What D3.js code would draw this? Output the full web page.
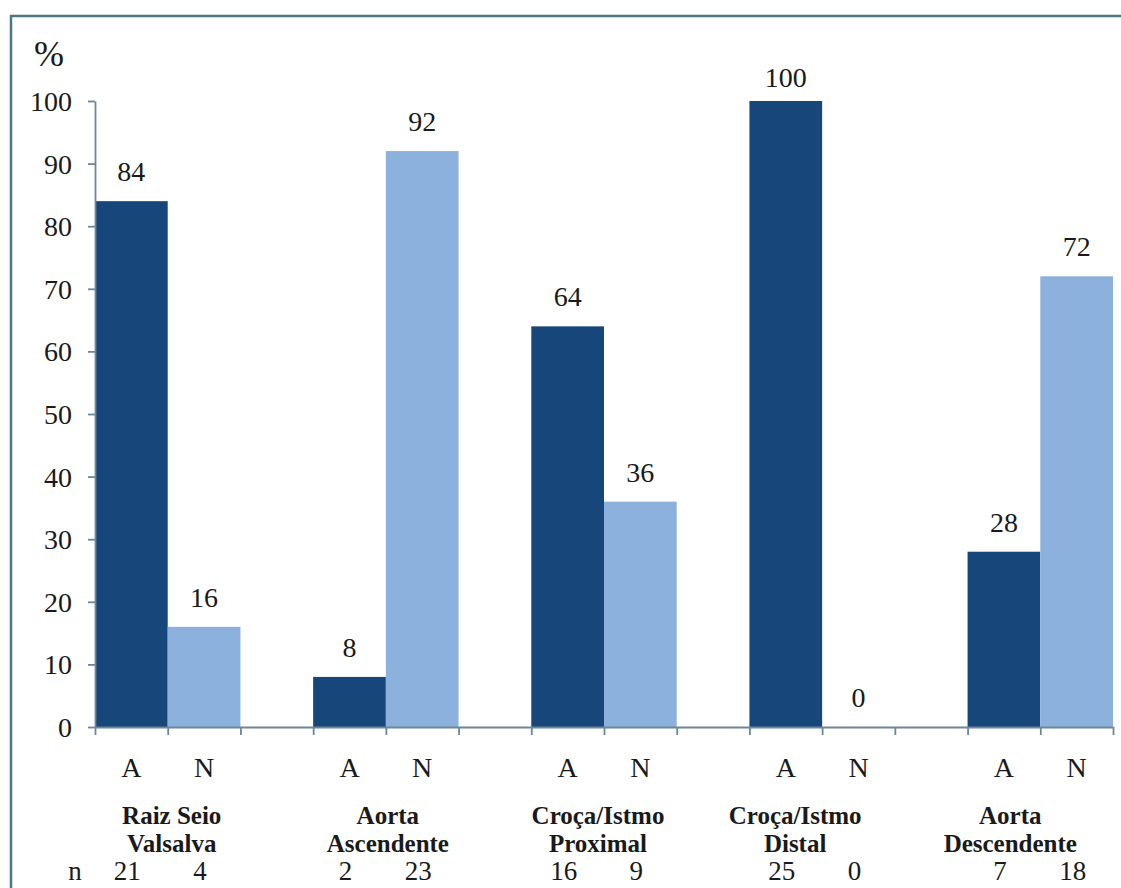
<!DOCTYPE html>
<html>
<head>
<meta charset="utf-8">
<script src="https://cdn.jsdelivr.net/npm/d3@7"></script>
<style>
  html, body { margin: 0; padding: 0; background: #ffffff; }
  svg { display: block; }
</style>
</head>
<body>
<svg id="chart" width="1121" height="888"></svg>
<script>
// ---- data ----
const categories = [
  ["Raiz Seio", "Valsalva"],
  ["Aorta", "Ascendente"],
  ["Croça/Istmo", "Proximal"],
  ["Croça/Istmo", "Distal"],
  ["Aorta", "Descendente"]
];
const seriesNames = ["A", "N"];
const valuesA = [84, 8, 64, 100, 28];
const valuesN = [16, 92, 36, 0, 72];
const countsA = [21, 2, 16, 25, 7];
const countsN = [4, 23, 9, 0, 18];
const yTicks = [0, 10, 20, 30, 40, 50, 60, 70, 80, 90, 100];
const yLabel = "%";
const nLabel = "n";

(function () {
const FONT = '"Liberation Serif", "Times New Roman", serif';
const TXT = "#1a1a1a";

// ---- layout ----
const svg = d3.select("#chart").attr("font-family", FONT);
const pLeft = 95, pRight = 1113, pTop = 101, pBottom = 727;
const colorA = "#16467a", colorN = "#8db1dd", axisColor = "#6b8898";
const catLabelDx = [4, 2, -6, -27, -30];

// frame
svg.append("rect").attr("x", 11).attr("y", 16).attr("width", 1200).attr("height", 1000)
  .attr("fill", "none").attr("stroke", "#4f7687").attr("stroke-width", 2.5);

// slots: A, N, gap per category (no gap after the last)
const slots = [];
categories.forEach((c, i) => {
  slots.push({ key: i + "A", cat: i, s: 0, v: valuesA[i], n: countsA[i] });
  slots.push({ key: i + "N", cat: i, s: 1, v: valuesN[i], n: countsN[i] });
  if (i < categories.length - 1) slots.push({ key: i + "gap", cat: i, s: -1 });
});
const x = d3.scaleBand().domain(slots.map(d => d.key)).range([pLeft, pRight]).paddingInner(0).paddingOuter(0);
const xEdge = d3.scaleLinear().domain([0, slots.length]).range([pLeft, pRight]);
const y = d3.scaleLinear().domain([0, 100]).range([pBottom, pTop]);

const bars = slots.filter(d => d.s >= 0);

// bars
svg.append("g").selectAll("rect").data(bars).join("rect")
  .attr("x", d => x(d.key)).attr("width", x.bandwidth())
  .attr("y", d => y(d.v)).attr("height", d => y(0) - y(d.v))
  .attr("fill", d => d.s === 0 ? colorA : colorN);

// y axis
const yAxis = svg.append("g").attr("transform", `translate(${pLeft},0)`)
  .call(d3.axisLeft(y).tickValues(yTicks).tickSize(7).tickSizeOuter(0).tickPadding(16))
  .attr("font-family", FONT).attr("font-size", 28);
yAxis.select(".domain").attr("stroke", axisColor).attr("stroke-width", 1.8);
yAxis.selectAll(".tick line").attr("stroke", axisColor).attr("stroke-width", 1.8);
yAxis.selectAll(".tick text").attr("fill", TXT).attr("dy", "0.34em");

// x axis (ticks at slot edges)
const xAxis = svg.append("g").attr("transform", `translate(0,${pBottom})`)
  .call(d3.axisBottom(xEdge).tickValues(d3.range(0, slots.length + 1)).tickSize(8).tickSizeOuter(0).tickFormat(""));
xAxis.select(".domain").attr("stroke", axisColor).attr("stroke-width", 1.8);
xAxis.selectAll(".tick line").attr("stroke", axisColor).attr("stroke-width", 1.8);

// value labels (kept inside the chart area at the top)
svg.append("g").selectAll("text").data(bars).join("text")
  .attr("x", d => x(d.key) + x.bandwidth() / 2).attr("y", d => Math.max(y(d.v) - 20, 87))
  .attr("text-anchor", "middle").attr("font-size", 28).attr("fill", TXT)
  .text(d => d.v);

// A / N labels
svg.append("g").selectAll("text").data(bars).join("text")
  .attr("x", d => x(d.key) + x.bandwidth() / 2).attr("y", 777)
  .attr("text-anchor", "middle").attr("font-size", 28).attr("fill", TXT)
  .text(d => seriesNames[d.s]);

// category labels
const catG = svg.append("g").selectAll("text").data(categories).join("text")
  .attr("text-anchor", "middle").attr("font-size", 25).attr("font-weight", "bold").attr("fill", TXT)
  .attr("transform", (d, i) => `translate(${x(i + "N") + catLabelDx[i]},0)`);
catG.selectAll("tspan").data(d => d).join("tspan")
  .attr("x", 0).attr("y", (d, j) => 824 + j * 28).text(d => d);

// n row
svg.append("text").attr("x", 75).attr("y", 880).attr("text-anchor", "middle")
  .attr("font-size", 27).attr("fill", TXT).text(nLabel);
svg.append("g").selectAll("text").data(bars).join("text")
  .attr("x", d => x(d.key) + x.bandwidth() / 2 - 4).attr("y", 880)
  .attr("text-anchor", "middle").attr("font-size", 27).attr("fill", TXT)
  .text(d => d.n);

// y label
svg.append("text").attr("x", 34).attr("y", 66).attr("font-size", 36).attr("fill", TXT).text(yLabel);
})();
</script>
</body>
</html>
